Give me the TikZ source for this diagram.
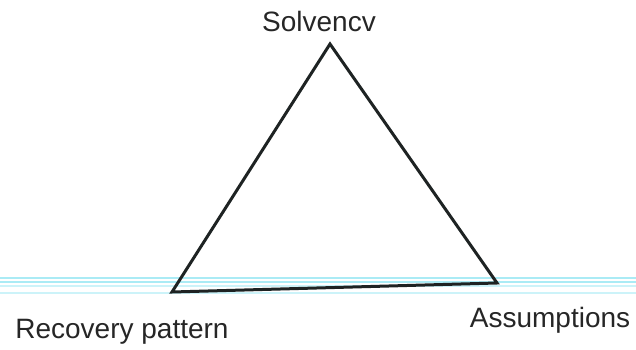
\documentclass[tikz,border=0pt]{standalone}
\usepackage{fontspec}
\setmainfont{Liberation Sans}
\usepackage{xcolor}
\usepackage{tikz}
\definecolor{scanline}{RGB}{170, 235, 245}
\definecolor{inkgray}{RGB}{30, 35, 35}

\begin{document}
\begin{tikzpicture}[
    x=1pt, y=-1pt,
    label/.style={font=\fontsize{28}{32}\selectfont, text=black!85, anchor=base, inner sep=0pt},
    edge/.style={line width=3pt, color=inkgray, line join=miter},
    scan/.style={line width=1.2pt, color=scanline}
]
\useasboundingbox (0,0) rectangle (636,350);

% scanner lines
\draw[scan] (0,278) -- (636,278);
\draw[scan, line width=2pt] (0,282) -- (636,282);
\draw[scan, opacity=0.6] (0,286) -- (636,286);
\draw[scan, opacity=0.6] (0,293) -- (636,293);

\coordinate (top) at (330,44);
\coordinate (left) at (172,292);
\coordinate (right) at (497,283);

\draw[edge] (top) -- (left) -- (right) -- cycle;

\node[label] (solv) at (319,32) {Solvencv};
\node[label] (recov) at (122,338) {Recovery pattern};
\node[label] (assum) at (550,327) {Assumptions};
\end{tikzpicture}
\end{document}
